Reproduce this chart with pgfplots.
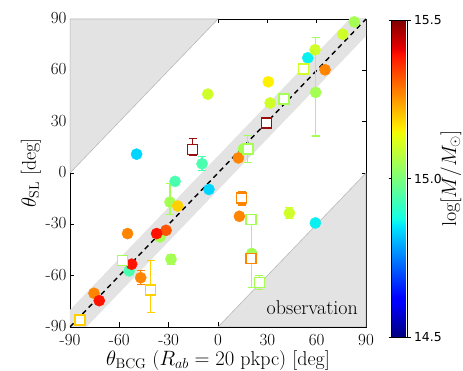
\documentclass[border=0pt]{standalone}
\usepackage{fontspec}
\usepackage{pgfplots}
\pgfplotsset{compat=1.18}
\newfontfamily\djv{DejaVu Sans}

% matplotlib jet sampled at the masses of the groups
\definecolor{cCyan}{rgb}{0,0.84,1}
\definecolor{cCyanB}{rgb}{0.03,0.94,0.94}
\definecolor{cMint}{rgb}{0.29,1,0.68}
\definecolor{cLgreen}{rgb}{0.645,1,0.32}
\definecolor{cYgreen}{rgb}{0.81,1,0.16}
\definecolor{cYellow}{rgb}{1,0.94,0}
\definecolor{cGold}{rgb}{1,0.81,0}
\definecolor{cOrange}{rgb}{1,0.52,0}
\definecolor{cOred}{rgb}{1,0.33,0}
\definecolor{cRed}{rgb}{1,0.07,0}
\definecolor{cDred}{rgb}{0.6,0.05,0.05}

\pgfplotsset{
  colormap={mpljet}{rgb(0pt)=(0,0,0.5); rgb(110pt)=(0,0,1); rgb(125pt)=(0,0,1);
    rgb(340pt)=(0,0.86,1); rgb(350pt)=(0,0.9,1); rgb(375pt)=(0.08,1,0.89);
    rgb(640pt)=(0.935,1,0.03); rgb(660pt)=(1,0.926,0); rgb(890pt)=(1,0.074,0);
    rgb(910pt)=(0.909,0,0); rgb(1000pt)=(0.5,0,0)},
  circ/.style={only marks, mark=*, mark size=5.6pt},
  sq/.style={only marks, mark=square*, mark size=5pt, mark options={fill=white, line width=1.5pt}},
  err/.style={error bars/y dir=both, error bars/y explicit,
    error bars/error bar style={line width=1.1pt},
    error bars/error mark options={rotate=90, mark size=4pt, line width=1.1pt}},
}

\begin{document}
\begin{tikzpicture}
\useasboundingbox (-70pt,-44pt) rectangle (393pt,327pt);
\begin{axis}[
  name=main,
  at={(0,0)}, anchor=south west,
  scale only axis,
  width=296pt, height=308pt,
  xmin=-90, xmax=90, ymin=-90, ymax=90,
  xtick={-90,-60,-30,0,30,60,90},
  ytick={-90,-60,-30,0,30,60,90},
  xticklabels={-90,-60,-30,0,30,60,90},
  yticklabels={-90,-60,-30,0,30,60,90},
  tick align=inside,
  major tick length=4.5pt,
  tick style={black, line width=0.6pt},
  axis line style={line width=0.9pt},
  ticklabel style={font=\fontsize{17}{20}\selectfont},
  xticklabel style={yshift=-3.5pt},
  yticklabel style={yshift=1pt},
  label style={font=\fontsize{20}{24}\selectfont},
  xlabel={$\theta_{\rm BCG}$ ($R_{ab}=20$ pkpc) [deg]},
  xlabel style={yshift=2pt},
  ylabel={$\theta_{\rm SL}$ [deg]},
  ylabel style={yshift=-2pt},
  colormap name=mpljet,
  point meta min=14.5, point meta max=15.5,
  colorbar,
  colorbar style={
    at={(parent axis.north east)}, anchor=north west,
    xshift=17pt, yshift=-1pt,
    width=16pt, height=317pt,
    ytick={14.5,15,15.5},
    yticklabels={14.5,15.0,15.5},
    yticklabel style={font=\djv\fontsize{12.4}{14}\selectfont, yshift=0pt},
    tick align=outside, major tick length=3pt,
    tick style={black, line width=0.6pt},
    axis line style={line width=0.8pt},
    ylabel={$\log[M/M_\odot]$},
    ylabel style={font=\fontsize{20}{24}\selectfont, yshift=8pt},
  },
]
% excluded regions and the +-10 deg band
\addplot[fill=gray!22, draw=gray!55, line width=0.6pt] coordinates {(-90,0) (-90,90) (0,90)} -- cycle;
\addplot[fill=gray!22, draw=gray!55, line width=0.6pt] coordinates {(0,-90) (90,-90) (90,0)} -- cycle;
\addplot[fill=gray!22, draw=none] coordinates {(-100,-110) (100,90) (100,110) (-100,-90)} -- cycle;
\addplot[black, line width=1.4pt, dash pattern=on 5pt off 4pt] coordinates {(-90,-90) (90,90)};

% circles
\addplot[cLgreen, circ] coordinates {(-35.3,-37.4) (15.4,14) (82.9,88.3)};
\addplot[cLgreen, circ, err] coordinates {(-29.2,-17) += (0,11) -= (0,7) (-28.6,-50.4) +- (0,3) (20.5,-47) +- (0,20) (59.4,47.1) += (0,32) -= (0,25.5)};
\addplot[cCyan, circ] coordinates {(-49.5,11) (-5.5,-9.6)};
\addplot[cCyanB, circ] coordinates {(59.2,-29.2) (54.6,67.3)};
\addplot[cMint, circ] coordinates {(-54,-57.2) (-26.1,-4.9)};
\addplot[cMint, circ, err] coordinates {(-9.7,5.4) +- (0,4)};
\addplot[cYgreen, circ] coordinates {(31.7,40.9) (75.9,81.1) (59,72)};
\addplot[cYgreen, circ, err] coordinates {(43.4,-23.4) +- (0,3) (-6.2,46.1) +- (0,2)};
\addplot[cYellow, circ] coordinates {(30.6,53.3)};
\addplot[cGold, circ] coordinates {(-24.5,-19.3)};
\addplot[cOrange, circ] coordinates {(-55,-35.4) (-75.4,-70.3) (12.4,8.8) (65.1,60.3) (13,-25.3)};
\addplot[cOrange, circ, err] coordinates {(-47,-61.2) +- (0,4)};
\addplot[cOred, circ] coordinates {(-31.6,-33.5)};
\addplot[cRed, circ] coordinates {(-52.5,-53.3) (-72.2,-74.6) (-37.3,-35.4)};

% squares
\addplot[cLgreen, sq] coordinates {(-58,-51) (20.1,-27.2) (40.2,43.2)};
\addplot[cLgreen, sq, err] coordinates {(25.1,-63.9) +- (0,4) (18.1,14.1) +- (0,8)};
\addplot[cYgreen, sq] coordinates {(51.9,60.7)};
\addplot[cGold, sq] coordinates {(-83.9,-85.9)};
\addplot[cGold, sq, err] coordinates {(-40.9,-68.4) += (0,17) -= (0,13.2)};
\addplot[cDred, sq] coordinates {(29.6,29.2)};
\addplot[cDred, sq, err] coordinates {(-15.4,13.7) += (0,6.3) -= (0,3.5)};
\addplot[cOrange, sq] coordinates {(20.1,-50)};
\addplot[cOrange, sq, err] coordinates {(14.4,-14.7) +- (0,4)};

\node[anchor=base east, inner sep=0pt, font=\fontsize{20}{24}\selectfont] at (rel axis cs:0.973,0.042) {observation};
\end{axis}
\end{tikzpicture}
\end{document}
